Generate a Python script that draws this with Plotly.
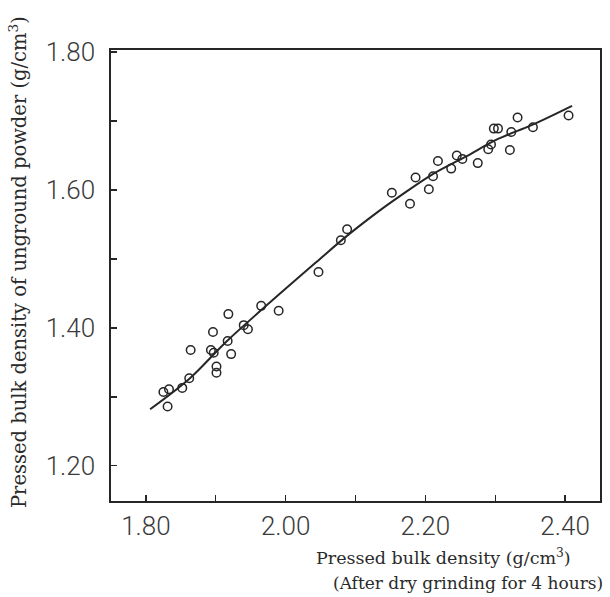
import plotly.graph_objects as go

# measured points (x: after dry grinding 4 h, y: unground powder)
pts_x = [1.831, 1.825, 1.833, 1.852, 1.862, 1.864, 1.901, 1.901, 1.893, 1.897,
         1.896, 1.917, 1.922, 1.918, 1.940, 1.946, 1.965, 1.990, 2.047, 2.079,
         2.088, 2.152, 2.178, 2.186, 2.205, 2.211, 2.218, 2.237, 2.245, 2.253,
         2.275, 2.290, 2.294, 2.298, 2.304, 2.321, 2.323, 2.332, 2.354, 2.405]
pts_y = [1.286, 1.307, 1.311, 1.313, 1.327, 1.368, 1.344, 1.335, 1.368, 1.364,
         1.394, 1.381, 1.362, 1.420, 1.404, 1.398, 1.432, 1.425, 1.481, 1.527,
         1.543, 1.596, 1.580, 1.618, 1.601, 1.620, 1.642, 1.631, 1.650, 1.645,
         1.639, 1.659, 1.666, 1.689, 1.689, 1.658, 1.684, 1.705, 1.691, 1.708]

# fitted curve
curve_x = [1.806, 1.863, 1.915, 1.981, 2.048, 2.086, 2.133, 2.162, 2.209, 2.257, 2.304, 2.352, 2.410]
curve_y = [1.282, 1.327, 1.380, 1.440, 1.499, 1.532, 1.569, 1.590, 1.622, 1.648, 1.674, 1.694, 1.722]

x_ticks = [1.8, 2.0, 2.2, 2.4]
x_labels = ["1.80", "2.00", "2.20", "2.40"]
y_ticks = [1.2, 1.4, 1.6, 1.8]
y_labels = ["1.20", "1.40", "1.60", "1.80"]

ink = "#262626"
tickfont = dict(family="Roboto, Liberation Sans Narrow, DejaVu Sans Condensed, sans-serif",
                size=26, color="#3a3a3a", weight=300)
serif_x = dict(family="DejaVu Serif, Liberation Serif", size=17, color="#2a2a2a")
serif_x1 = dict(family="DejaVu Serif, Liberation Serif", size=17.5, color="#2a2a2a")
serif_y = dict(family="DejaVu Serif, Liberation Serif", size=19.5, color="#2a2a2a")

minor = dict(ticks="inside", dtick=0.1, ticklen=6, tickwidth=1.3, tickcolor=ink, showgrid=False)

fig = go.Figure()
fig.add_trace(go.Scatter(x=curve_x, y=curve_y, mode="lines", line=dict(color=ink, width=2, shape="spline"),
                         hoverinfo="skip", showlegend=False))
fig.add_trace(go.Scatter(x=pts_x, y=pts_y, mode="markers",
                         marker=dict(symbol="circle-open", size=8.5, color=ink, line=dict(width=1.5, color=ink)),
                         showlegend=False))

fig.update_layout(
    width=610, height=597,
    margin=dict(l=111, r=8, t=50, b=96),
    paper_bgcolor="white", plot_bgcolor="white",
    xaxis=dict(range=[1.75, 2.45], tickvals=x_ticks, ticktext=x_labels, ticks="inside", ticklen=6,
               tickwidth=1.3, tickcolor=ink, showline=True, mirror=True, linewidth=1.6, linecolor=ink,
               showgrid=False, zeroline=False, tickfont=tickfont, ticklabelstandoff=1, minor=minor),
    yaxis=dict(range=[1.149, 1.803], tickvals=y_ticks, ticktext=y_labels, ticks="inside", ticklen=6,
               tickwidth=1.3, tickcolor=ink, showline=True, mirror=True, linewidth=1.6, linecolor=ink,
               showgrid=False, zeroline=False, tickfont=tickfont, ticklabelstandoff=9, minor=minor),
    annotations=[
        dict(text="Pressed bulk density (g/cm<sup>3</sup>)", xref="paper", yref="paper",
             x=0.945, y=-0.124, xanchor="right", yanchor="middle", showarrow=False, font=serif_x1),
        dict(text="(After dry grinding for 4 hours)", xref="paper", yref="paper",
             x=1.010, y=-0.182, xanchor="right", yanchor="middle", showarrow=False, font=serif_x),
        dict(text="Pressed bulk density of unground powder (g/cm<sup>3</sup>)", xref="paper", yref="paper",
             x=-0.190, y=0.530, xanchor="center", yanchor="middle", textangle=-90, showarrow=False, font=serif_y),
    ],
)

fig.write_html("out.html", config={"displayModeBar": False, "staticPlot": True})

# remove the default page margin so the figure sits at the window's top-left corner
with open("out.html", encoding="utf-8") as f:
    html = f.read()
html = html.replace("<head>", "<head><style>html,body{margin:0;padding:0;overflow:hidden;}</style>", 1)
with open("out.html", "w", encoding="utf-8") as f:
    f.write(html)
